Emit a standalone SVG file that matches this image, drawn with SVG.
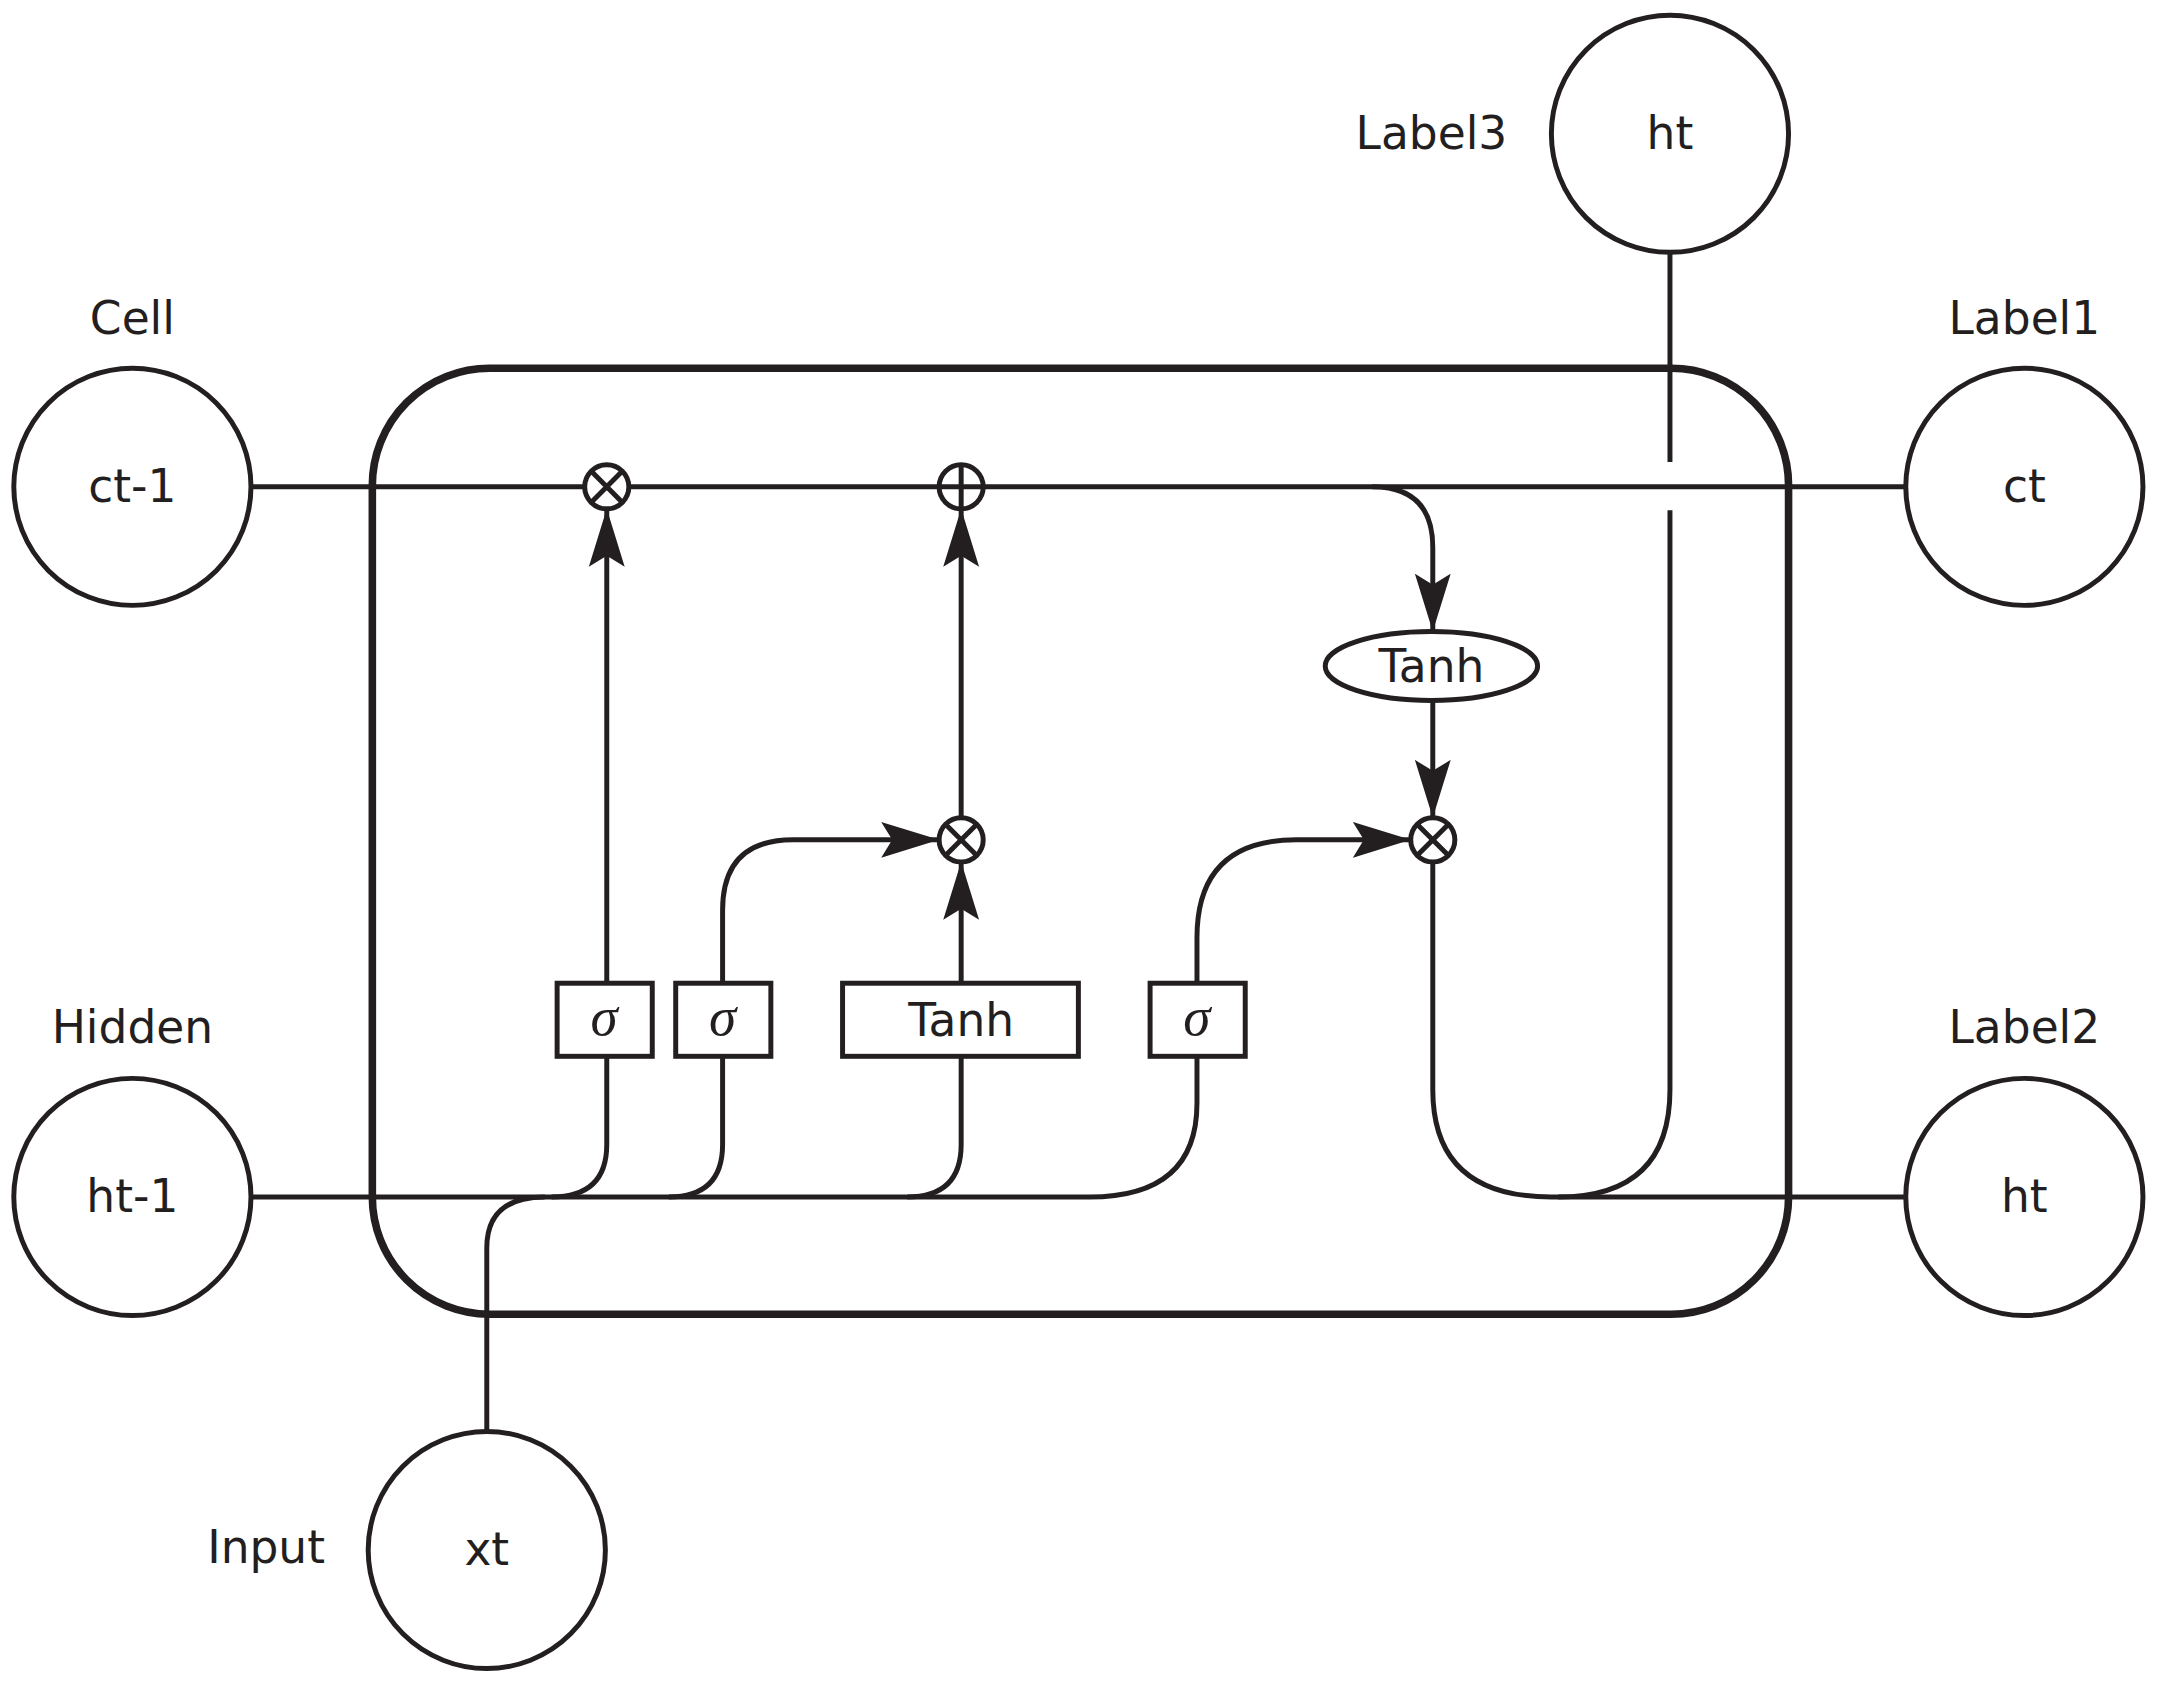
<svg xmlns="http://www.w3.org/2000/svg" width="2161" height="1686" viewBox="0 0 2161 1686">
<style>
.ln{fill:none;stroke:#231f20;stroke-width:3.6}
.nd{fill:#fff;stroke:#231f20;stroke-width:3.6}
.t{font-family:"DejaVu Sans","Liberation Sans",sans-serif;font-size:33px;fill:#231f20;text-anchor:middle;dominant-baseline:central}
.s{font-family:"Liberation Serif",serif;font-style:italic;font-size:40px;fill:#231f20;text-anchor:middle;dominant-baseline:central}
</style>
<defs>
<marker id="a" markerUnits="userSpaceOnUse" markerWidth="44" markerHeight="30" viewBox="0 0 44 30" refX="42" refY="15" orient="auto">
<path d="M0,2 L42,15 L0,28 L8,15 Z" fill="#231f20"/>
</marker>
</defs>
<rect width="2161" height="1686" fill="#fff"/>
<g transform="scale(1.379)">
<g id="cell"><rect x="270" y="267" width="1027" height="686" rx="85" fill="none" stroke="#231f20" stroke-width="5.5"/></g>
<g id="connectors">
<path class="ln" d="M182,353 H424 M456,353 H681 M713,353 H1382"/>
<path class="ln" d="M995,353 Q1039,353 1039,397 V458" marker-end="url(#a)"/>
<path class="ln" d="M440,713 V369" marker-end="url(#a)"/>
<path class="ln" d="M697,713 V625" marker-end="url(#a)"/>
<path class="ln" d="M697,593 V369" marker-end="url(#a)"/>
<path class="ln" d="M524,713 V660 Q524,609 575,609 H681" marker-end="url(#a)"/>
<path class="ln" d="M868,713 V680 Q868,609 940,609 H1023" marker-end="url(#a)"/>
<path class="ln" d="M1039,508 V593" marker-end="url(#a)"/>
<path class="ln" d="M1039,625 V790 Q1039,868 1125,868 H1382"/>
<path class="ln" d="M1211,183 V335 M1211,370 V790 Q1211,868 1130,868"/>
<path class="ln" d="M182,868 H790 Q868,868 868,800 V766"/>
<path class="ln" d="M440,766 V830 Q440,868 400,868"/>
<path class="ln" d="M524,766 V830 Q524,868 485,868"/>
<path class="ln" d="M697,766 V830 Q697,868 658,868"/>
<path class="ln" d="M353,1038 V905 Q353,868 395,868"/>
</g>
<g id="ct-1"><circle class="nd" cx="96" cy="353" r="86"/><text class="t" x="96" y="353">ct-1</text><text class="t" x="96" y="231">Cell</text></g>
<g id="ht-1"><circle class="nd" cx="96" cy="868" r="86"/><text class="t" x="96" y="868">ht-1</text><text class="t" x="96" y="745">Hidden</text></g>
<g id="xt"><circle class="nd" cx="353" cy="1124" r="86"/><text class="t" x="353" y="1124">xt</text><text class="t" x="193" y="1122">Input</text></g>
<g id="ct"><circle class="nd" cx="1468" cy="353" r="86"/><text class="t" x="1468" y="353">ct</text><text class="t" x="1468" y="231">Label1</text></g>
<g id="ht"><circle class="nd" cx="1468" cy="868" r="86"/><text class="t" x="1468" y="868">ht</text><text class="t" x="1468" y="745">Label2</text></g>
<g id="ht-top"><circle class="nd" cx="1211" cy="97" r="86"/><text class="t" x="1211" y="97">ht</text><text class="t" x="1038" y="97">Label3</text></g>
<g id="mul1"><circle class="nd" cx="440" cy="353" r="16"/><path class="ln" stroke-width="2" d="M429,342 L451,364 M451,342 L429,364"/></g>
<g id="add"><circle class="nd" cx="697" cy="353" r="16"/><path class="ln" stroke-width="2" d="M681,353 H713 M697,337 V369"/></g>
<g id="mul2"><circle class="nd" cx="697" cy="609" r="16"/><path class="ln" stroke-width="2" d="M686,598 L708,620 M708,598 L686,620"/></g>
<g id="mul3"><circle class="nd" cx="1039" cy="609" r="16"/><path class="ln" stroke-width="2" d="M1028,598 L1050,620 M1050,598 L1028,620"/></g>
<g id="sig1"><rect class="nd" x="404" y="713" width="69" height="53"/><text class="s" x="438" y="737">σ</text></g>
<g id="sig2"><rect class="nd" x="490" y="713" width="69" height="53"/><text class="s" x="524" y="737">σ</text></g>
<g id="tanh1"><rect class="nd" x="611" y="713" width="171" height="53"/><text class="t" x="697" y="740">Tanh</text></g>
<g id="sig3"><rect class="nd" x="834" y="713" width="69" height="53"/><text class="s" x="868" y="737">σ</text></g>
<g id="tanh2"><ellipse class="nd" cx="1038" cy="483" rx="77" ry="25"/><text class="t" x="1038" y="483">Tanh</text></g>
</g>
</svg>
